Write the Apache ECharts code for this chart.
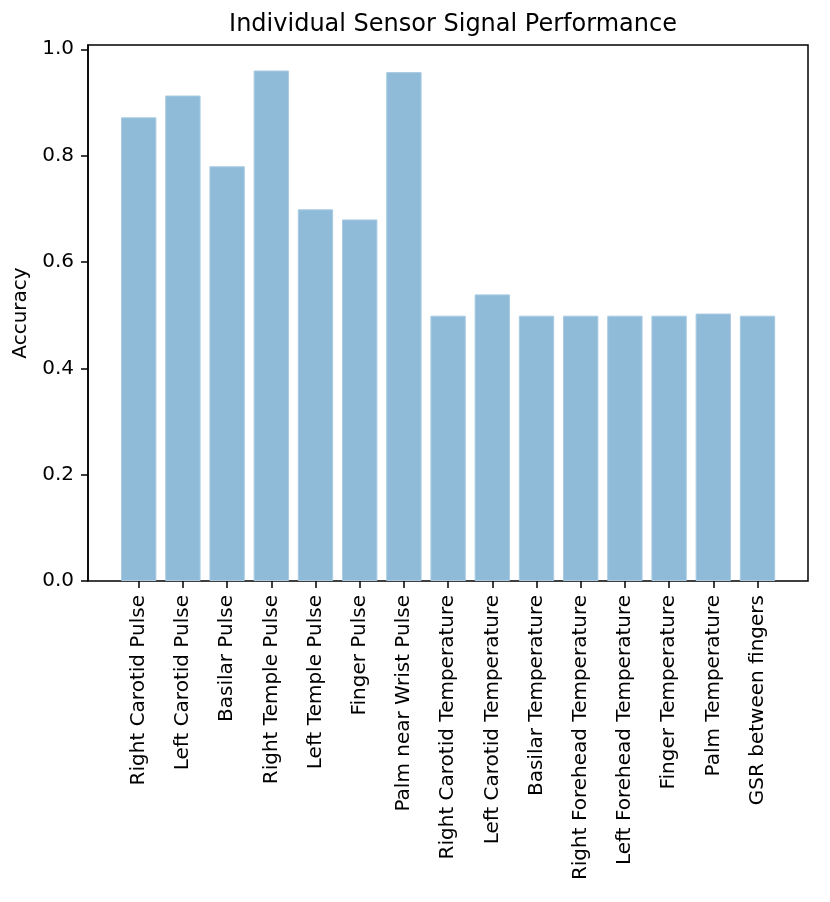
<!DOCTYPE html>
<html>
<head>
<meta charset="utf-8">
<script src="https://cdn.jsdelivr.net/npm/echarts@6/dist/echarts.min.js"></script>
<style>html,body{margin:0;padding:0;background:#fff;}#c{width:830px;height:902px;}</style>
</head>
<body>
<div id="c"></div>
<script>
const categories = ["Right Carotid Pulse","Left Carotid Pulse","Basilar Pulse","Right Temple Pulse","Left Temple Pulse","Finger Pulse","Palm near Wrist Pulse","Right Carotid Temperature","Left Carotid Temperature","Basilar Temperature","Right Forehead Temperature","Left Forehead Temperature","Finger Temperature","Palm Temperature","GSR between fingers"];
const accuracy = [0.872, 0.913, 0.780, 0.960, 0.699, 0.680, 0.957, 0.499, 0.539, 0.499, 0.499, 0.499, 0.499, 0.503, 0.499];
const yTicks = [0, 0.2, 0.4, 0.6, 0.8, 1.0];
const yMax = 1.008;

const font = 'DejaVu Sans';
const chart = echarts.init(document.getElementById('c'), null, {renderer: 'canvas'});
chart.setOption({
  animation: false,
  backgroundColor: '#fff',
  title: {
    text: 'Individual Sensor Signal Performance',
    left: 448, top: 8, textAlign: 'center',
    textStyle: {fontFamily: font, fontSize: 24, fontWeight: 'normal', color: '#000'}
  },
  grid: [
    {left: 88, right: 22, top: 45, bottom: 321, show: true, borderColor: '#000', borderWidth: 1.5, backgroundColor: 'transparent'},
    {left: 116.6, right: 50.4, top: 45, bottom: 321}
  ],
  xAxis: [
    {gridIndex: 0, type: 'value', min: 0, max: 1, show: false},
    {gridIndex: 1, type: 'category', data: categories,
      axisLine: {show: false},
      axisTick: {show: true, alignWithLabel: true, length: 7, lineStyle: {color: '#000', width: 1.5}},
      axisLabel: {rotate: 90, margin: 14, interval: 0, fontFamily: font, fontSize: 20, color: '#000'}
    }
  ],
  yAxis: [
    {gridIndex: 0, type: 'value', min: 0, max: yMax,
      name: 'Accuracy', nameLocation: 'middle', nameGap: 52,
      nameTextStyle: {fontFamily: font, fontSize: 20, color: '#000'},
      axisLine: {show: true, lineStyle: {color: '#000', width: 1.5}},
      axisTick: {show: true, length: 7, customValues: yTicks, lineStyle: {color: '#000', width: 1.5}},
      axisLabel: {customValues: yTicks, margin: 14, fontFamily: font, fontSize: 20, color: '#000', formatter: v => v.toFixed(1)},
      splitLine: {show: false}
    },
    {gridIndex: 1, type: 'value', min: 0, max: yMax, show: false, splitLine: {show: false}}
  ],
  series: [{
    type: 'bar', xAxisIndex: 1, yAxisIndex: 1,
    data: accuracy, barWidth: '80%',
    itemStyle: {color: '#8fbbd9', borderColor: '#a9cbe3', borderWidth: 1}
  }]
});
</script>
</body>
</html>
